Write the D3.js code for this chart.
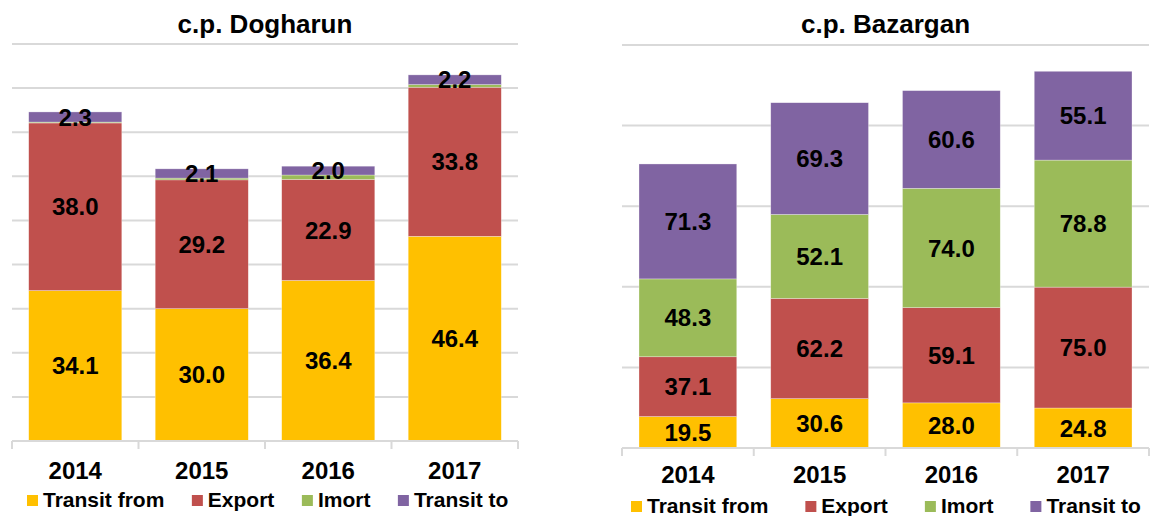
<!DOCTYPE html>
<html lang="en">
    <head>
        <meta charset="utf-8">
        <title>Dogharun and Bazargan</title>
        <script type="text/javascript" src="https://d3js.org/d3.v7.min.js"></script>
        <style type="text/css">
            body { margin: 0; background: #fff; }
            text {
                font-family: "Liberation Sans", Arial, Helvetica, sans-serif;
                font-weight: bold;
                fill: #000;
            }
            .grid line { stroke: #D9D9D9; stroke-width: 2px; }
            .axis path, .axis line { stroke: #D9D9D9; stroke-width: 2px; }
        </style>
    </head>
    <body>
        <script type="text/javascript">

            // categories and series
            const years = ["2014", "2015", "2016", "2017"];
            const seriesNames = ["Transit from", "Export", "Imort", "Transit to"];
            const colors = ["#FFC000", "#C0504D", "#9BBB59", "#8064A2"];

            // c.p. Dogharun
            const dogTransitFrom = [34.1, 30.0, 36.4, 46.4];
            const dogExport      = [38.0, 29.2, 22.9, 33.8];
            const dogImport      = [0.2, 0.4, 1.0, 0.6];
            const dogTransitTo   = [2.3, 2.1, 2.0, 2.2];
            const dogTicks = [0, 10, 20, 30, 40, 50, 60, 70, 80, 90];

            // c.p. Bazargan
            const bazTransitFrom = [19.5, 30.6, 28.0, 24.8];
            const bazExport      = [37.1, 62.2, 59.1, 75.0];
            const bazImport      = [48.3, 52.1, 74.0, 78.8];
            const bazTransitTo   = [71.3, 69.3, 60.6, 55.1];
            const bazTicks = [0, 50, 100, 150, 200, 250];

            const svgW = 1151;
            const svgH = 516;

            const svg = d3.select("body")
                .append("svg")
                .attr("width", svgW)
                .attr("height", svgH);

            function drawChart(opt) {
                const g = svg.append("g");

                const rows = years.map((y, i) => ({
                    year: y,
                    "Transit from": opt.series[0][i],
                    "Export": opt.series[1][i],
                    "Imort": opt.series[2][i],
                    "Transit to": opt.series[3][i]
                }));
                const stacked = d3.stack().keys(seriesNames)(rows);

                const x = d3.scaleBand()
                    .domain(years)
                    .range([opt.left, opt.right])
                    .paddingInner(opt.pad)
                    .paddingOuter(opt.pad / 2);
                const y = d3.scaleLinear()
                    .domain([0, d3.max(opt.ticks)])
                    .range([opt.base, opt.top]);

                // gridlines
                g.append("g")
                    .attr("class", "grid")
                    .selectAll("line")
                    .data(opt.ticks.slice(1))
                    .enter()
                    .append("line")
                    .attr("x1", opt.left)
                    .attr("x2", opt.right)
                    .attr("y1", d => y(d))
                    .attr("y2", d => y(d));

                // bars
                g.selectAll("g.layer")
                    .data(stacked)
                    .enter()
                    .append("g")
                    .attr("class", "layer")
                    .attr("fill", (d, i) => colors[i])
                    .selectAll("rect")
                    .data(d => d)
                    .enter()
                    .append("rect")
                    .attr("x", d => x(d.data.year))
                    .attr("width", x.bandwidth())
                    .attr("y", d => y(d[1]))
                    .attr("height", d => y(d[0]) - y(d[1]))
                    .attr("stroke", "#fff")
                    .attr("stroke-opacity", 0.5)
                    .attr("stroke-width", 0.6);

                // bottom axis with boundary ticks
                const axis = g.append("g")
                    .attr("class", "axis")
                    .attr("transform", "translate(0," + opt.base + ")");
                axis.append("line")
                    .attr("x1", opt.left).attr("x2", opt.right)
                    .attr("y1", 0).attr("y2", 0);
                axis.selectAll("line.tk")
                    .data(years.concat(["end"]))
                    .enter()
                    .append("line")
                    .attr("class", "tk")
                    .attr("x1", (d, i) => opt.left + i * x.step())
                    .attr("x2", (d, i) => opt.left + i * x.step())
                    .attr("y1", 0).attr("y2", 8);

                // year labels
                g.selectAll("text.year")
                    .data(years)
                    .enter()
                    .append("text")
                    .attr("class", "year")
                    .attr("x", d => x(d) + x.bandwidth() / 2)
                    .attr("y", opt.yearY)
                    .attr("text-anchor", "middle")
                    .style("font-size", "24px")
                    .text(d => d);

                // data labels
                stacked.forEach(layer => {
                    g.selectAll(null)
                        .data(layer.filter(d => d[1] - d[0] >= 1.5))
                        .enter()
                        .append("text")
                        .attr("x", d => x(d.data.year) + x.bandwidth() / 2)
                        .attr("y", d => (y(d[0]) + y(d[1])) / 2)
                        .attr("dy", "0.36em")
                        .attr("text-anchor", "middle")
                        .style("font-size", "24px")
                        .text(d => d3.format(".1f")(d[1] - d[0]));
                });

                // title
                g.append("text")
                    .attr("x", (opt.left + opt.right) / 2)
                    .attr("y", 33)
                    .attr("text-anchor", "middle")
                    .style("font-size", "26px")
                    .text(opt.title);

                // legend
                let lx = opt.legendX;
                seriesNames.forEach((name, i) => {
                    g.append("rect")
                        .attr("x", lx)
                        .attr("y", opt.legendY - 12)
                        .attr("width", 11)
                        .attr("height", 11)
                        .attr("fill", colors[i]);
                    const t = g.append("text")
                        .attr("x", lx + 16)
                        .attr("y", opt.legendY)
                        .style("font-size", "21px")
                        .text(name);
                    lx += 16 + t.node().getComputedTextLength() + opt.legendGap;
                });
            }

            drawChart({
                title: "c.p. Dogharun",
                series: [dogTransitFrom, dogExport, dogImport, dogTransitTo],
                ticks: dogTicks,
                left: 12, right: 518, pad: 0.264,
                base: 441, top: 44,
                yearY: 479,
                legendX: 27, legendY: 507, legendGap: 27.5
            });

            drawChart({
                title: "c.p. Bazargan",
                series: [bazTransitFrom, bazExport, bazImport, bazTransitTo],
                ticks: bazTicks,
                left: 622, right: 1149, pad: 0.258,
                base: 448, top: 45,
                yearY: 483,
                legendX: 631, legendY: 513, legendGap: 37
            });

        </script>
    </body>
</html>
